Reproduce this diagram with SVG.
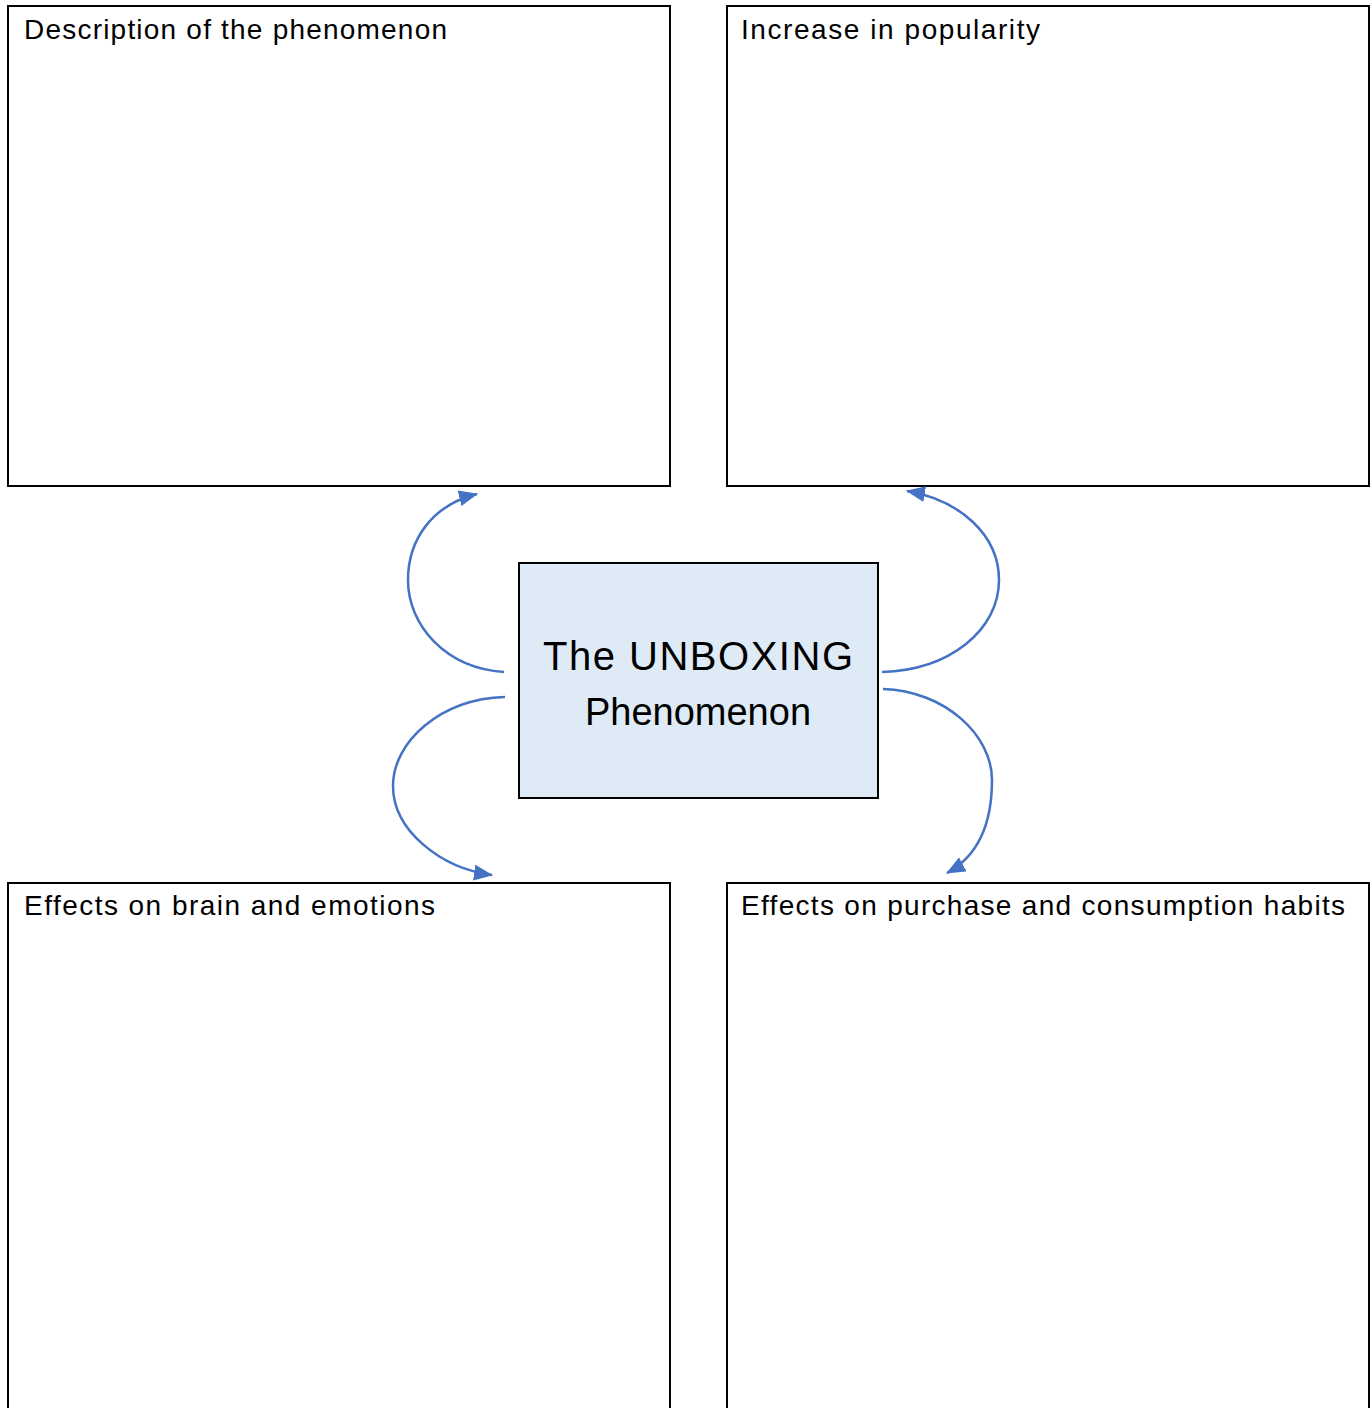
<svg xmlns="http://www.w3.org/2000/svg" width="1372" height="1408" viewBox="0 0 1372 1408">
<defs>
<style>
.box{fill:#ffffff;stroke:#000000;stroke-width:2}
.center{fill:#DEEAF5;stroke:#000000;stroke-width:2}
.title{font-family:"Liberation Sans","Noto Sans",Arial,sans-serif;font-size:28px;fill:#000000}
.ctext{font-family:"Liberation Sans","Noto Sans",Arial,sans-serif;font-size:40px;fill:#000000;text-anchor:middle}
.conn{fill:none;stroke:#4472C4;stroke-width:2.5;marker-end:url(#arrow)}
</style>
<marker id="arrow" markerUnits="userSpaceOnUse" markerWidth="20" markerHeight="16" refX="18" refY="8" orient="auto">
<path d="M0,0 L19,8 L0,16 Z" fill="#4472C4"/>
</marker>
</defs>
<rect width="1372" height="1408" fill="#ffffff"/>
<g id="node-description">
<rect class="box" x="8" y="6" width="662" height="480"/>
<text class="title" x="24" y="39" textLength="423" lengthAdjust="spacing">Description of the phenomenon</text>
</g>
<g id="node-popularity">
<rect class="box" x="727" y="6" width="642" height="480"/>
<text class="title" x="741" y="39" textLength="299" lengthAdjust="spacing">Increase in popularity</text>
</g>
<g id="node-brain">
<rect class="box" x="8" y="883" width="662" height="540"/>
<text class="title" x="24" y="915" textLength="411" lengthAdjust="spacing">Effects on brain and emotions</text>
</g>
<g id="node-purchase">
<rect class="box" x="727" y="883" width="642" height="540"/>
<text class="title" x="741" y="915" textLength="604" lengthAdjust="spacing">Effects on purchase and consumption habits</text>
</g>
<g id="node-center">
<rect class="center" x="519" y="563" width="359" height="235"/>
<text class="ctext" x="698" y="670" textLength="310" lengthAdjust="spacing">The UNBOXING</text>
<text class="ctext" x="698" y="725" style="font-size:38px">Phenomenon</text>
</g>
<g id="connectors">
<path class="conn" d="M504,672 C445,668 408,625 408,580 C408,540 432,505 477,494"/>
<path class="conn" d="M882,672 C950,670 999,630 999,580 C999,535 960,500 907,491"/>
<path class="conn" d="M505,697 C440,699 393,742 393,786 C393,830 440,868 492,875"/>
<path class="conn" d="M883,689 C945,691 992,735 992,780 C992,820 980,855 947,873"/>
</g>
</svg>
